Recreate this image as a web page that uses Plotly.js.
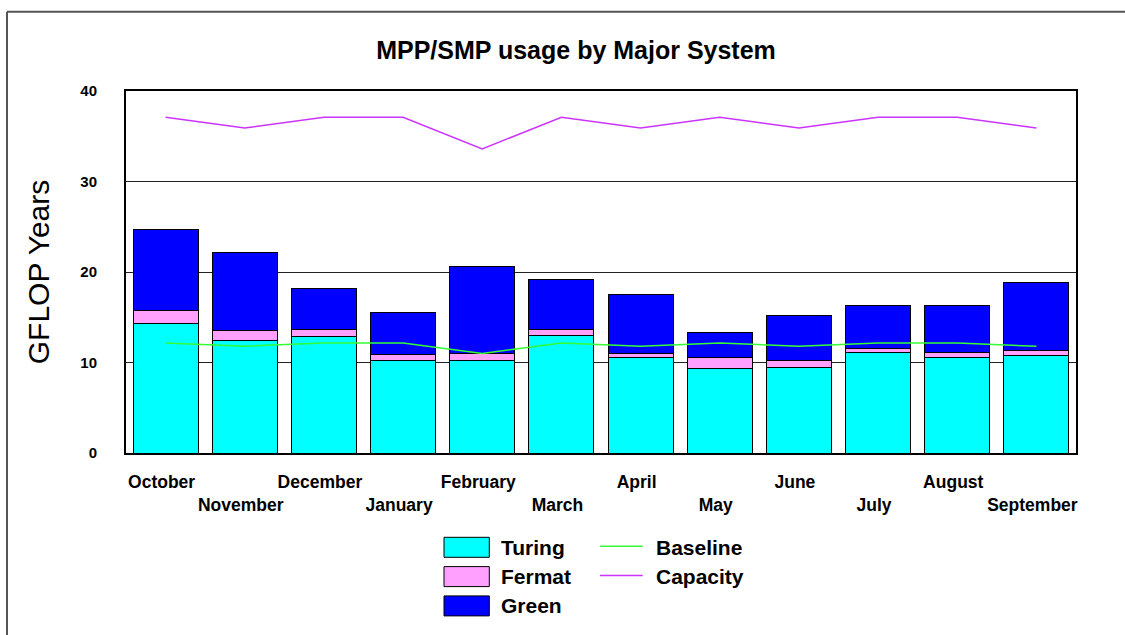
<!DOCTYPE html>
<html>
<head>
<meta charset="utf-8">
<script src="https://cdn.plot.ly/plotly-3.0.1.min.js"></script>
<style>
html,body{margin:0;padding:0;background:#fff;}
#chart{width:1125px;height:635px;}
</style>
</head>
<body>
<div id="chart"></div>
<script>
// ---- data ----
const months = ["October","November","December","January","February","March","April","May","June","July","August","September"];
const turing = [14.3, 12.4, 12.9, 10.2, 10.2, 13.0, 10.6, 9.3, 9.5, 11.1, 10.6, 10.8];
const fermat = [1.5, 1.1, 0.7, 0.65, 0.75, 0.7, 0.35, 1.2, 0.75, 0.5, 0.55, 0.55];
const green = [8.9, 8.7, 4.6, 4.7, 9.7, 5.5, 6.55, 2.85, 4.95, 4.7, 5.2, 7.5];
const baseline = [12.15, 11.8, 12.15, 12.15, 11.0, 12.15, 11.8, 12.15, 11.8, 12.15, 12.15, 11.8];
const capacity = [37.1, 35.9, 37.1, 37.1, 33.6, 37.1, 35.9, 37.1, 35.9, 37.1, 37.1, 35.9];
const yTicks = [0, 10, 20, 30, 40];
const barNames = ["Turing", "Fermat", "Green"];
const lineNames = ["Baseline", "Capacity"];

// ---- style ----
const FONT = "Arial, 'Liberation Sans', sans-serif";
const barColors = ["#00FFFF", "#FFA0FF", "#0000FF"];
const lineColors = ["#33FF33", "#CC33FF"];

const W = 1125, H = 635;
const M = {l: 126, r: 49, t: 91, b: 182};
const pw = W - M.l - M.r, ph = H - M.t - M.b;
const px = x => (x - M.l) / pw;
const py = y => (H - M.b - y) / ph;

const barVals = [turing, fermat, green];
const lineVals = [baseline, capacity];

const traces = [];
barVals.forEach((v, i) => {
  traces.push({
    type: "bar", name: barNames[i], x: months, y: v,
    marker: {color: barColors[i], line: {color: "#000", width: 1}},
    showlegend: false, hoverinfo: "x+y+name"
  });
});
lineVals.forEach((v, i) => {
  traces.push({
    type: "scatter", mode: "lines", name: lineNames[i], x: months, y: v,
    line: {color: lineColors[i], width: 1.5},
    showlegend: false
  });
});

// custom legend
const shapes = [];
const annotations = [];
const rowH = 29.3;
barNames.forEach((n, i) => {
  const top = 537.3 + i * rowH;
  shapes.push({type: "rect", xref: "paper", yref: "paper",
    x0: px(444), x1: px(489.3), y0: py(top), y1: py(top + 20),
    fillcolor: barColors[i], line: {color: "#000", width: 1}});
  annotations.push({xref: "paper", yref: "paper", x: px(499), y: py(top + 10),
    xanchor: "left", yanchor: "middle", showarrow: false, text: n,
    font: {family: FONT, size: 21, color: "#000", weight: "bold"}});
});
lineNames.forEach((n, i) => {
  const cy = 547.3 + i * rowH;
  shapes.push({type: "line", xref: "paper", yref: "paper",
    x0: px(600), x1: px(642.7), y0: py(cy - 1), y1: py(cy - 1),
    line: {color: lineColors[i], width: 1.5}});
  annotations.push({xref: "paper", yref: "paper", x: px(654), y: py(cy),
    xanchor: "left", yanchor: "middle", showarrow: false, text: n,
    font: {family: FONT, size: 21, color: "#000", weight: "bold"}});
});
// outer frame (left + top edges)
shapes.push({type: "line", xref: "paper", yref: "paper", x0: px(7), x1: px(7), y0: py(H + 5), y1: py(11.7), line: {color: "#555", width: 2}});
shapes.push({type: "line", xref: "paper", yref: "paper", x0: px(7), x1: px(W + 5), y0: py(11.7), y1: py(11.7), line: {color: "#555", width: 2}});

const tickText = months.map((m, i) => i % 2 === 1 ? " <br>" + m : m);

const layout = {
  width: W, height: H,
  margin: M,
  paper_bgcolor: "#fff", plot_bgcolor: "#fff",
  barmode: "stack", bargap: 0.18,
  showlegend: false,
  font: {family: FONT, color: "#000"},
  title: {
    text: "MPP/SMP usage by Major System",
    font: {family: FONT, size: 25, color: "#000", weight: "bold"},
    xref: "container", yref: "container", x: 576 / W, xanchor: "center",
    y: 1 - 50 / H, yanchor: "middle"
  },
  xaxis: {
    type: "category", tickmode: "array", tickvals: months, ticktext: tickText,
    tickangle: 0,
    showgrid: false, zeroline: false,
    showline: true, linecolor: "#000", linewidth: 2, mirror: true,
    ticks: "", ticklabelstandoff: 12, ticklabelshift: -4,
    tickfont: {family: FONT, size: 17.5, color: "#000", weight: "bold"},
    fixedrange: true
  },
  yaxis: {
    range: [0, 40], tickmode: "array", tickvals: yTicks,
    showgrid: true, gridcolor: "#222", gridwidth: 1, zeroline: false,
    showline: true, linecolor: "#000", linewidth: 2, mirror: true,
    ticks: "", ticklabelstandoff: 24,
    tickfont: {family: FONT, size: 15, color: "#000", weight: "bold"},
    title: {text: "GFLOP Years", font: {family: FONT, size: 30, color: "#000"}, standoff: 22},
    fixedrange: true
  },
  shapes: shapes,
  annotations: annotations
};

Plotly.newPlot("chart", traces, layout, {displayModeBar: false, staticPlot: true});
</script>
</body>
</html>
